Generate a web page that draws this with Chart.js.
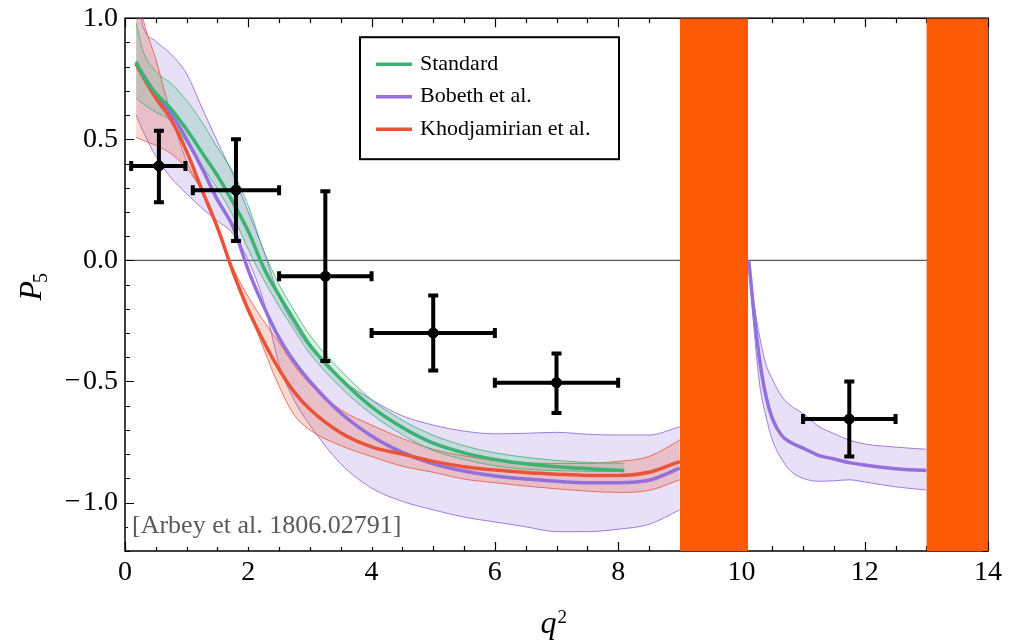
<!DOCTYPE html>
<html>
<head>
<meta charset="utf-8">
<script src="https://cdn.jsdelivr.net/npm/chart.js@4.4.0/dist/chart.umd.min.js"></script>
<style>
  body { margin: 0; background: #fff; }
</style>
</head>
<body>
<canvas id="p5chart" width="1010" height="644"></canvas>
<script>
// q^2 grid for the Standard prediction
var qStd   = [0.18, 0.3, 0.5, 0.75, 1.0, 1.25, 1.5, 1.75, 2.0, 2.25, 2.5, 2.75, 3.0, 3.5, 4.0, 4.5, 5.0, 5.5, 6.0, 6.5, 7.0, 7.5, 8.1];
var stdMid = [0.82, 0.76, 0.69, 0.625, 0.54, 0.445, 0.35, 0.24, 0.12, -0.03, -0.145, -0.25, -0.35, -0.49, -0.605, -0.69, -0.755, -0.795, -0.822, -0.84, -0.852, -0.86, -0.868];
var stdHi  = [0.98, 0.86, 0.78, 0.73, 0.66, 0.57, 0.465, 0.365, 0.225, 0.04, -0.10, -0.21, -0.31, -0.455, -0.575, -0.66, -0.722, -0.765, -0.795, -0.813, -0.826, -0.834, -0.838];
var stdLo  = [0.67, 0.645, 0.612, 0.575, 0.485, 0.39, 0.295, 0.185, 0.045, -0.08, -0.19, -0.29, -0.385, -0.525, -0.635, -0.72, -0.785, -0.822, -0.848, -0.862, -0.868, -0.871, -0.872];

// q^2 grid below the charmonium veto (Bobeth, Khodjamirian)
var qLow   = [0.18, 0.3, 0.5, 0.75, 1.0, 1.25, 1.5, 1.75, 2.0, 2.25, 2.5, 2.75, 3.0, 3.5, 4.0, 4.5, 5.0, 5.5, 6.0, 6.5, 7.0, 7.5, 8.0, 8.5, 9.0];
var bobMid = [0.815, 0.765, 0.685, 0.605, 0.50, 0.38, 0.25, 0.14, -0.04, -0.19, -0.32, -0.42, -0.50, -0.63, -0.725, -0.793, -0.84, -0.87, -0.89, -0.903, -0.912, -0.918, -0.918, -0.908, -0.858];
var bobHi  = [1.1, 0.96, 0.905, 0.85, 0.77, 0.63, 0.49, 0.355, 0.20, 0.04, -0.15, -0.27, -0.36, -0.49, -0.575, -0.642, -0.68, -0.705, -0.716, -0.714, -0.71, -0.718, -0.721, -0.721, -0.687];
var bobLo  = [0.60, 0.53, 0.43, 0.34, 0.275, 0.215, 0.163, 0.11, 0.0, -0.17, -0.43, -0.58, -0.68, -0.84, -0.94, -0.995, -1.03, -1.06, -1.08, -1.10, -1.12, -1.12, -1.11, -1.09, -1.03];
var khoMid = [0.81, 0.755, 0.67, 0.58, 0.45, 0.29, 0.135, -0.045, -0.205, -0.335, -0.45, -0.545, -0.615, -0.712, -0.77, -0.80, -0.83, -0.852, -0.866, -0.876, -0.883, -0.888, -0.888, -0.875, -0.831];
var khoHi  = [1.15, 0.99, 0.83, 0.60, 0.41, 0.285, 0.135, -0.03, -0.15, -0.25, -0.34, -0.435, -0.51, -0.617, -0.68, -0.735, -0.78, -0.807, -0.826, -0.836, -0.838, -0.838, -0.83, -0.81, -0.742];
var khoLo  = [0.508, 0.495, 0.475, 0.44, 0.38, 0.285, 0.13, -0.06, -0.20, -0.365, -0.52, -0.64, -0.70, -0.765, -0.81, -0.85, -0.875, -0.903, -0.918, -0.932, -0.943, -0.953, -0.958, -0.95, -0.906];

// q^2 grid between the two vetoes (Bobeth only)
var qHigh      = [10.12, 10.2, 10.3, 10.4, 10.5, 10.65, 10.8, 11.0, 11.25, 11.5, 11.75, 12.0, 12.5, 13.0];
var bobHighMid = [0.0, -0.21, -0.42, -0.563, -0.652, -0.722, -0.752, -0.775, -0.805, -0.82, -0.835, -0.845, -0.86, -0.868];
var bobHighHi  = [0.0, -0.17, -0.32, -0.43, -0.49, -0.56, -0.60, -0.632, -0.685, -0.715, -0.742, -0.758, -0.771, -0.78];
var bobHighLo  = [0.0, -0.27, -0.52, -0.646, -0.74, -0.82, -0.87, -0.90, -0.912, -0.91, -0.906, -0.915, -0.935, -0.948];

// LHCb bins
var binMid = [0.55, 1.8, 3.25, 5.0, 7.0, 11.75];
var binLo  = [0.1, 1.1, 2.5, 4.0, 6.0, 11.0];
var binHi  = [0.98, 2.5, 4.0, 6.0, 8.0, 12.5];
var p5Val  = [0.39, 0.29, -0.066, -0.30, -0.505, -0.655];
var p5Lo   = [0.24, 0.08, -0.415, -0.455, -0.63, -0.81];
var p5Hi   = [0.535, 0.50, 0.285, -0.145, -0.385, -0.50];

// vetoed charmonium regions
var vetoLo = [9.0, 13.0];
var vetoHi = [10.11, 14.0];

var xTicks = [0, 2, 4, 6, 8, 10, 12, 14];
var yTicks = [-1, -0.5, 0, 0.5, 1];
var seriesNames = ['Standard', 'Bobeth et al.', 'Khodjamirian et al.'];
var citation = '[Arbey et al. 1806.02791]';

var GREEN = '#3cb371', PURPLE = '#9370db', RED = '#e8533a', ORANGE = '#fd5a05';
var SERIF = "'Liberation Serif', 'DejaVu Serif', serif";

function pts(xs, ys) {
    return xs.map(function (x, i) { return { x: x, y: ys[i] }; });
}

function centralLine(label, xs, ys, color, order) {
    return { label: label, data: pts(xs, ys), borderColor: color, borderWidth: 3.5,
             pointRadius: 0, fill: false, order: order, cubicInterpolationMode: 'monotone' };
}
function edgeLine(xs, ys, color, fillTarget, fillColor, order) {
    return { label: '', data: pts(xs, ys), borderColor: color, borderWidth: 1,
             pointRadius: 0, fill: fillTarget === null ? false : { target: fillTarget },
             backgroundColor: fillColor, order: order, cubicInterpolationMode: 'monotone' };
}

var lhcb = binMid.map(function (x, i) {
    return { x: x, y: p5Val[i], xMin: binLo[i], xMax: binHi[i], yMin: p5Lo[i], yMax: p5Hi[i] };
});

var datasets = [];
// 0,1 : vetoed bands
vetoLo.forEach(function (lo, i) {
    datasets.push({ label: '', data: [{ x: lo, y: 1.0 }, { x: vetoHi[i], y: 1.0 }],
        borderWidth: 0, pointRadius: 0, backgroundColor: ORANGE, fill: 'start', order: 0 });
});
// 2 : measurements
datasets.push({ label: 'LHCb', data: lhcb, showLine: false, pointRadius: 5,
    pointBackgroundColor: '#000', pointBorderColor: '#000', order: 1 });
// 3..6 : central lines
datasets.push(centralLine(seriesNames[0], qStd, stdMid, GREEN, 2));
datasets.push(centralLine(seriesNames[2], qLow, khoMid, RED, 3));
datasets.push(centralLine(seriesNames[1], qLow, bobMid, PURPLE, 4));
datasets.push(centralLine('', qHigh, bobHighMid, PURPLE, 4));
// 7..14 : uncertainty bands
datasets.push(edgeLine(qStd, stdHi, 'rgba(60,179,113,0.8)', 8, 'rgba(60,179,113,0.2)', 5));
datasets.push(edgeLine(qStd, stdLo, 'rgba(60,179,113,0.8)', null, null, 5));
datasets.push(edgeLine(qLow, khoHi, 'rgba(232,83,58,0.8)', 10, 'rgba(235,95,65,0.25)', 6));
datasets.push(edgeLine(qLow, khoLo, 'rgba(232,83,58,0.8)', null, null, 6));
datasets.push(edgeLine(qLow, bobHi, 'rgba(147,112,219,0.9)', 12, 'rgba(147,112,219,0.22)', 7));
datasets.push(edgeLine(qLow, bobLo, 'rgba(147,112,219,0.9)', null, null, 7));
datasets.push(edgeLine(qHigh, bobHighHi, 'rgba(147,112,219,0.9)', 14, 'rgba(147,112,219,0.22)', 7));
datasets.push(edgeLine(qHigh, bobHighLo, 'rgba(147,112,219,0.9)', null, null, 7));

var legendItems = [
    { name: seriesNames[0], color: GREEN },
    { name: seriesNames[1], color: PURPLE },
    { name: seriesNames[2], color: RED }
];

// frame, ticks, error bars, legend, titles
var decorations = {
    id: 'decorations',
    beforeDatasetsDraw: function (chart) {
        var ctx = chart.ctx, a = chart.chartArea;
        var xs = chart.scales.x, ys = chart.scales.y;
        ctx.save();
        // zero line
        ctx.strokeStyle = '#555';
        ctx.lineWidth = 1.2;
        var y0 = ys.getPixelForValue(0);
        ctx.beginPath(); ctx.moveTo(a.left, y0); ctx.lineTo(a.right, y0); ctx.stroke();
        // frame
        ctx.strokeStyle = '#000';
        ctx.lineWidth = 1.5;
        ctx.strokeRect(a.left, a.top, a.right - a.left, a.bottom - a.top);
        // inward ticks
        ctx.lineWidth = 1.2;
        ctx.beginPath();
        for (var q = 0; q <= 14.001; q += 0.5) {
            var px = Math.round(xs.getPixelForValue(q)) + 0.5;
            var len = (Math.abs(q / 2 - Math.round(q / 2)) < 1e-6) ? 9 : 5;
            ctx.moveTo(px, a.bottom); ctx.lineTo(px, a.bottom - len);
            ctx.moveTo(px, a.top); ctx.lineTo(px, a.top + len);
        }
        for (var k = -12; k <= 10; k++) {
            var py = Math.round(ys.getPixelForValue(k / 10)) + 0.5;
            var l2 = (k % 5 === 0) ? 9 : 5;
            ctx.moveTo(a.left, py); ctx.lineTo(a.left + l2, py);
            ctx.moveTo(a.right, py); ctx.lineTo(a.right - l2, py);
        }
        ctx.stroke();
        ctx.restore();
    },
    afterDatasetsDraw: function (chart) {
        var ctx = chart.ctx, a = chart.chartArea;
        var xs = chart.scales.x, ys = chart.scales.y;
        ctx.save();
        // error bars
        ctx.strokeStyle = '#000';
        ctx.lineWidth = 4;
        chart.data.datasets[2].data.forEach(function (d) {
            var cx = xs.getPixelForValue(d.x), cy = ys.getPixelForValue(d.y);
            var x1 = xs.getPixelForValue(d.xMin), x2 = xs.getPixelForValue(d.xMax);
            var y1 = ys.getPixelForValue(d.yMax), y2 = ys.getPixelForValue(d.yMin);
            ctx.beginPath();
            ctx.moveTo(x1, cy); ctx.lineTo(x2, cy);
            ctx.moveTo(cx, y1); ctx.lineTo(cx, y2);
            ctx.moveTo(x1, cy - 5); ctx.lineTo(x1, cy + 5);
            ctx.moveTo(x2, cy - 5); ctx.lineTo(x2, cy + 5);
            ctx.moveTo(cx - 5, y1); ctx.lineTo(cx + 5, y1);
            ctx.moveTo(cx - 5, y2); ctx.lineTo(cx + 5, y2);
            ctx.stroke();
            ctx.beginPath(); ctx.arc(cx, cy, 5, 0, 2 * Math.PI); ctx.fillStyle = '#000'; ctx.fill();
        });

        // citation with white backing
        ctx.font = '26px ' + SERIF;
        var tw = ctx.measureText(citation).width;
        ctx.fillStyle = '#fff';
        ctx.fillRect(a.left + 3, a.bottom - 46, tw + 10, 42);
        ctx.fillStyle = '#5a5a5a';
        ctx.textBaseline = 'middle';
        ctx.textAlign = 'left';
        ctx.fillText(citation, a.left + 7, a.bottom - 25);

        // legend
        var bx = a.left + 235, by = a.top + 19, bw = 259, bh = 122;
        ctx.fillStyle = '#fff';
        ctx.fillRect(bx, by, bw, bh);
        ctx.strokeStyle = '#000';
        ctx.lineWidth = 2;
        ctx.strokeRect(bx, by, bw, bh);
        ctx.font = '22px ' + SERIF;
        legendItems.forEach(function (it, i) {
            var ly = by + 27 + i * 32.5;
            ctx.strokeStyle = it.color;
            ctx.lineWidth = 3.5;
            ctx.beginPath(); ctx.moveTo(bx + 16, ly); ctx.lineTo(bx + 52, ly); ctx.stroke();
            ctx.fillStyle = '#000';
            ctx.fillText(it.name, bx + 60, ly);
        });
        ctx.restore();
    },
    afterDraw: function (chart) {
        var ctx = chart.ctx, a = chart.chartArea;
        ctx.save();
        ctx.fillStyle = '#000';
        ctx.textBaseline = 'alphabetic';
        ctx.textAlign = 'left';
        // x title: q^2
        var mid = (a.left + a.right) / 2;
        ctx.font = 'italic 32px ' + SERIF;
        var qw = ctx.measureText('q').width;
        ctx.fillText('q', mid - 16, 633);
        ctx.font = '19px ' + SERIF;
        ctx.fillText('2', mid - 16 + qw + 1, 623);
        // y title: P_5
        ctx.translate(41, (a.top + a.bottom) / 2);
        ctx.rotate(-Math.PI / 2);
        ctx.font = 'italic 32px ' + SERIF;
        var pw = ctx.measureText('P').width;
        ctx.fillText('P', -16, 0);
        ctx.font = '20px ' + SERIF;
        ctx.fillText('5', -16 + pw - 2, 6);
        ctx.restore();
    }
};

Chart.defaults.font.family = SERIF;

new Chart(document.getElementById('p5chart'), {
    type: 'line',
    data: { datasets: datasets },
    options: {
        responsive: false,
        animation: false,
        events: [],
        layout: { padding: { left: 0, right: 21, top: 17, bottom: 0 } },
        plugins: { legend: { display: false }, tooltip: { enabled: false } },
        scales: {
            x: {
                type: 'linear', min: 0, max: 14,
                afterBuildTicks: function (scale) {
                    scale.ticks = xTicks.map(function (v) { return { value: v }; });
                },
                afterFit: function (scale) { scale.height = 93; },
                grid: { display: false, drawTicks: false },
                border: { display: false },
                ticks: { color: '#000', font: { size: 28, lineHeight: 1 }, padding: 8, maxRotation: 0, autoSkip: false,
                    callback: function (v) { return String(v); } }
            },
            y: {
                type: 'linear', min: -1.2, max: 1.0,
                afterBuildTicks: function (scale) {
                    scale.ticks = yTicks.map(function (v) { return { value: v }; });
                },
                afterFit: function (scale) { scale.width = 125; },
                grid: { display: false, drawTicks: false },
                border: { display: false },
                ticks: { color: '#000', font: { size: 28, lineHeight: 0.8 }, padding: 7, autoSkip: false,
                    callback: function (v) {
                        var s = Math.abs(v).toFixed(1);
                        return v < 0 ? '\u2212\u200a' + s : s;
                    } }
            }
        }
    },
    plugins: [decorations]
});
</script>
</body>
</html>
